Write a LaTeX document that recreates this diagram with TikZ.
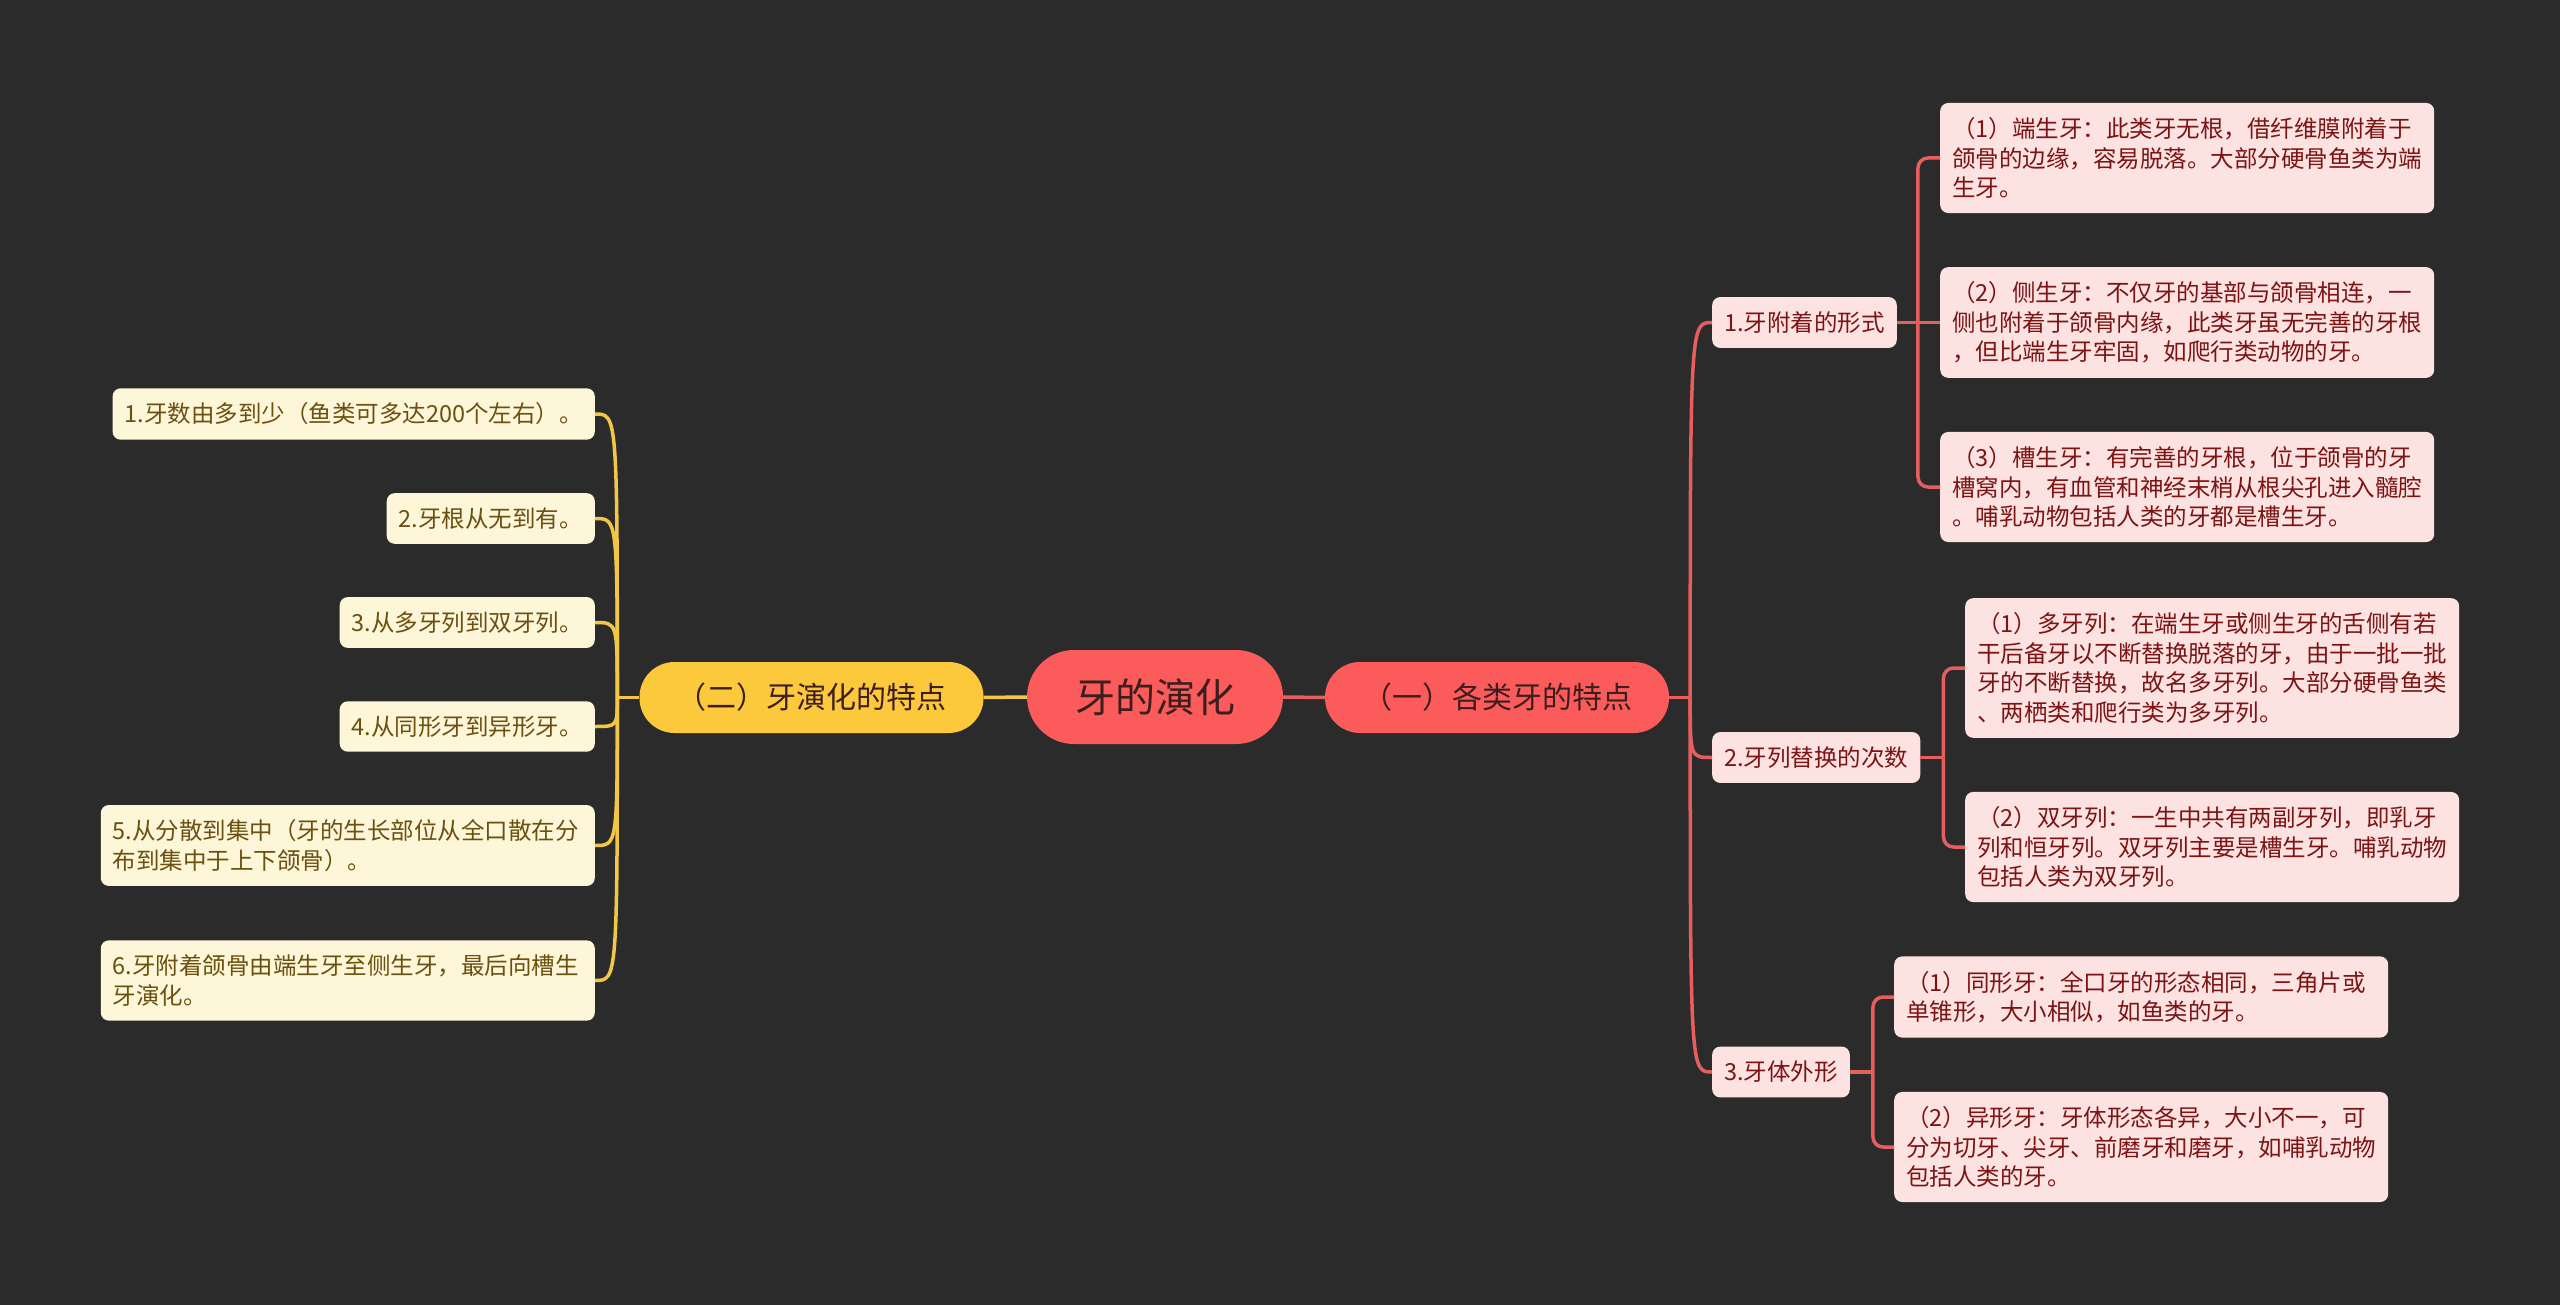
\documentclass[tikz,border=0pt]{standalone}
\usepackage{fontspec}
\setmainfont{Noto Sans CJK SC}
\definecolor{bg}{HTML}{2B2B2B}
\definecolor{redmain}{HTML}{FC5B5B}
\definecolor{redline}{HTML}{E65E5E}
\definecolor{redleaf}{HTML}{FDE2E2}
\definecolor{redtext}{HTML}{7D1414}
\definecolor{yelmain}{HTML}{FDC93C}
\definecolor{yelline}{HTML}{F2C745}
\definecolor{yelleaf}{HTML}{FDF6D8}
\definecolor{yeltext}{HTML}{6B5010}
\definecolor{darktext}{HTML}{3C1E1E}

\begin{document}
\begin{tikzpicture}[x=1pt,y=-1pt,
  root/.style={fill=redmain,text=darktext,minimum width=256pt,minimum height=94pt,
    rounded corners=47pt,font=\fontsize{40}{48}\selectfont},
  topic/.style={minimum width=344pt,minimum height=71pt,rounded corners=35pt,
    font=\fontsize{30}{36}\selectfont},
  sub/.style={fill=redleaf,text=redtext,rounded corners=8pt,inner xsep=12pt,
    inner ysep=14.5pt,font=\fontsize{23.5}{29.5}\selectfont,anchor=west},
  leafR/.style={sub,text width=470pt,align=left},
  leafY/.style={fill=yelleaf,text=yeltext,rounded corners=8pt,inner xsep=12pt,
    inner ysep=14.5pt,font=\fontsize{23.5}{29.5}\selectfont,align=left,anchor=east},
  lineR/.style={draw=redline,line width=3.5pt},
  lineY/.style={draw=yelline,line width=3.5pt}]
\useasboundingbox[fill=bg] (0,0) rectangle (2560,1305);
% ---- centre and the two topics ----
\node[root] (root) at (1155,697) {牙的演化};
\node[topic,fill=yelmain,text=darktext] (evo) at (811.5,697.5) {（二）牙演化的特点};
\node[topic,fill=redmain,text=darktext] (kinds) at (1497,697.5) {（一）各类牙的特点};
% ---- right branch ----
\node[sub] (attach) at (1712,322.5) {1.牙附着的形式};
\node[sub] (replace) at (1712,757.5) {2.牙列替换的次数};
\node[sub] (shape) at (1712,1072) {3.牙体外形};
\node[leafR] (acro) at (1940,158) {（1）端生牙：此类牙无根，借纤维膜附着于\\颌骨的边缘，容易脱落。大部分硬骨鱼类为端\\生牙。};
\node[leafR] (pleuro) at (1940,322.5) {（2）侧生牙：不仅牙的基部与颌骨相连，一\\侧也附着于颌骨内缘，此类牙虽无完善的牙根\\，但比端生牙牢固，如爬行类动物的牙。};
\node[leafR] (theco) at (1940,487) {（3）槽生牙：有完善的牙根，位于颌骨的牙\\槽窝内，有血管和神经末梢从根尖孔进入髓腔\\。哺乳动物包括人类的牙都是槽生牙。};
\node[leafR] (poly) at (1965,668) {（1）多牙列：在端生牙或侧生牙的舌侧有若\\干后备牙以不断替换脱落的牙，由于一批一批\\牙的不断替换，故名多牙列。大部分硬骨鱼类\\、两栖类和爬行类为多牙列。};
\node[leafR] (diphy) at (1965,847) {（2）双牙列：一生中共有两副牙列，即乳牙\\列和恒牙列。双牙列主要是槽生牙。哺乳动物\\包括人类为双牙列。};
\node[leafR] (homo) at (1894,997) {（1）同形牙：全口牙的形态相同，三角片或\\单锥形，大小相似，如鱼类的牙。};
\node[leafR] (hetero) at (1894,1147) {（2）异形牙：牙体形态各异，大小不一，可\\分为切牙、尖牙、前磨牙和磨牙，如哺乳动物\\包括人类的牙。};
% ---- left branch ----
\node[leafY] (ev1) at (595,414) {1.牙数由多到少（鱼类可多达200个左右）。};
\node[leafY] (ev2) at (595,518.5) {2.牙根从无到有。};
\node[leafY] (ev3) at (595,622.5) {3.从多牙列到双牙列。};
\node[leafY] (ev4) at (595,726.5) {4.从同形牙到异形牙。};
\node[leafY,text width=470pt] (ev5) at (595,845.5) {5.从分散到集中（牙的生长部位从全口散在分\\布到集中于上下颌骨）。};
\node[leafY,text width=470pt] (ev6) at (595,980.5) {6.牙附着颌骨由端生牙至侧生牙，最后向槽生\\牙演化。};
% ---- junctions ----
\coordinate (jy) at ([xshift=-22]evo.west);
\coordinate (jr) at ([xshift=21]kinds.east);
\coordinate (ja) at ([xshift=21]attach.east);
\coordinate (jb) at ([xshift=23]replace.east);
\coordinate (jc) at ([xshift=23]shape.east);
% ---- connectors ----
\draw[lineR] (root.east) -- (kinds.west);
\draw[lineY] (root.west) -- (evo.east);
\draw[lineR] (kinds.east) -- (jr);
\draw[lineY] (evo.west) -- (jy);
\foreach \n in {attach,replace,shape}{
  \draw[lineR] (jr) .. controls (jr |- \n.west) .. (\n.west);
}
\foreach \n in {ev1,ev2,ev3,ev4,ev5,ev6}{
  \draw[lineY] (jy) .. controls (jy |- \n.east) .. (\n.east);
}
\draw[lineR] (attach.east) -- (ja);
\draw[lineR,rounded corners=10pt] (ja) |- (acro.west);
\draw[lineR,rounded corners=10pt] (ja) |- (theco.west);
\draw[lineR] (ja) -- (pleuro.west);
\draw[lineR] (replace.east) -- (jb);
\draw[lineR,rounded corners=10pt] (jb) |- (poly.west);
\draw[lineR,rounded corners=10pt] (jb) |- (diphy.west);
\draw[lineR] (shape.east) -- (jc);
\draw[lineR,rounded corners=10pt] (jc) |- (homo.west);
\draw[lineR,rounded corners=10pt] (jc) |- (hetero.west);
\end{tikzpicture}
\end{document}
